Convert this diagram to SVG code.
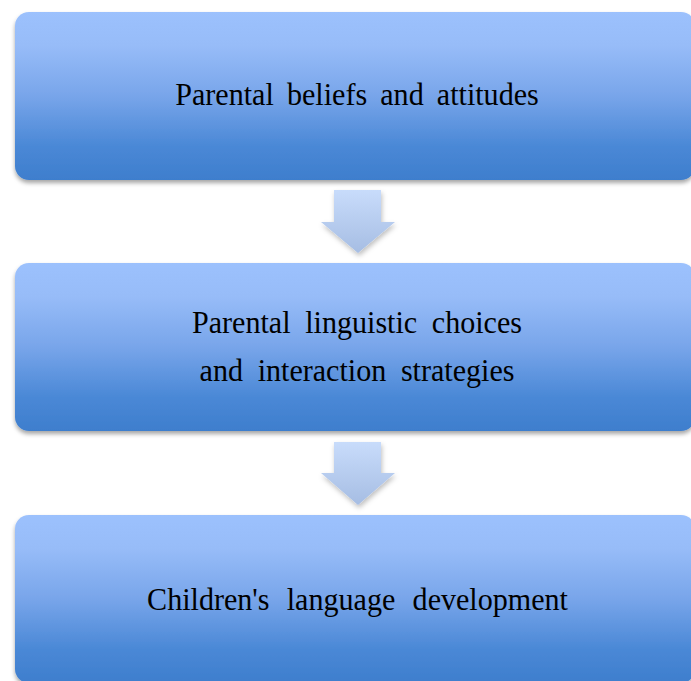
<svg xmlns="http://www.w3.org/2000/svg" width="691" height="681" viewBox="0 0 691 681">
  <defs>
    <linearGradient id="boxFill" x1="0" y1="0" x2="0" y2="1">
      <stop offset="0" stop-color="#9CC1FD"/>
      <stop offset="0.2" stop-color="#97BCF8"/>
      <stop offset="0.5" stop-color="#78A5EA"/>
      <stop offset="0.8" stop-color="#4A88D6"/>
      <stop offset="1" stop-color="#3E7ECD"/>
    </linearGradient>
    <linearGradient id="arrowFill" x1="0" y1="0" x2="0" y2="1">
      <stop offset="0" stop-color="#C8DCFB"/>
      <stop offset="1" stop-color="#A6BDE3"/>
    </linearGradient>
    <filter id="boxShadow" x="-5%" y="-10%" width="110%" height="125%">
      <feDropShadow dx="0" dy="3" stdDeviation="2" flood-color="#000" flood-opacity="0.35"/>
    </filter>
    <filter id="arrowShadow" x="-20%" y="-20%" width="140%" height="150%">
      <feDropShadow dx="1" dy="3" stdDeviation="2.5" flood-color="#000" flood-opacity="0.25"/>
    </filter>
  </defs>
  <style>
    .box { fill: url(#boxFill); filter: url(#boxShadow); }
    .arrow { fill: url(#arrowFill); filter: url(#arrowShadow); }
    /* labels are set slightly condensed: each label group is scaled 0.94 horizontally about x=357 */
    .label { font-family: "Liberation Serif", "Times New Roman", serif; font-size: 32px; fill: #000; text-anchor: middle; word-spacing: 6px; }
    .wide { word-spacing: 7.6px; }
    .wider { word-spacing: 10.4px; }
  </style>
  <rect width="691" height="681" fill="#FFFFFF"/>

  <g id="node-beliefs">
    <rect class="box" x="15" y="12" width="680" height="168" rx="14" ry="14"/>
    <g transform="translate(357,0) scale(0.94,1)">
      <text class="label" x="0" y="105">Parental beliefs and attitudes</text>
    </g>
  </g>

  <g id="node-choices">
    <rect class="box" x="15" y="263" width="680" height="168" rx="14" ry="14"/>
    <g transform="translate(357,0) scale(0.94,1)">
      <text class="label wide" x="0" y="333">Parental linguistic choices</text>
      <text class="label wide" x="0" y="381">and interaction strategies</text>
    </g>
  </g>

  <g id="node-development">
    <rect class="box" x="15" y="515" width="680" height="168" rx="14" ry="14"/>
    <g transform="translate(357.5,0) scale(0.94,1)">
      <text class="label wider" x="0" y="610">Children's language development</text>
    </g>
  </g>

  <g id="connectors">
    <path class="arrow" d="M334,190 H381 V222 H395 L358,253 L321,222 H334 Z"/>
    <path class="arrow" d="M334,442 H381 V473 H395 L358,505 L321,473 H334 Z"/>
  </g>
</svg>
